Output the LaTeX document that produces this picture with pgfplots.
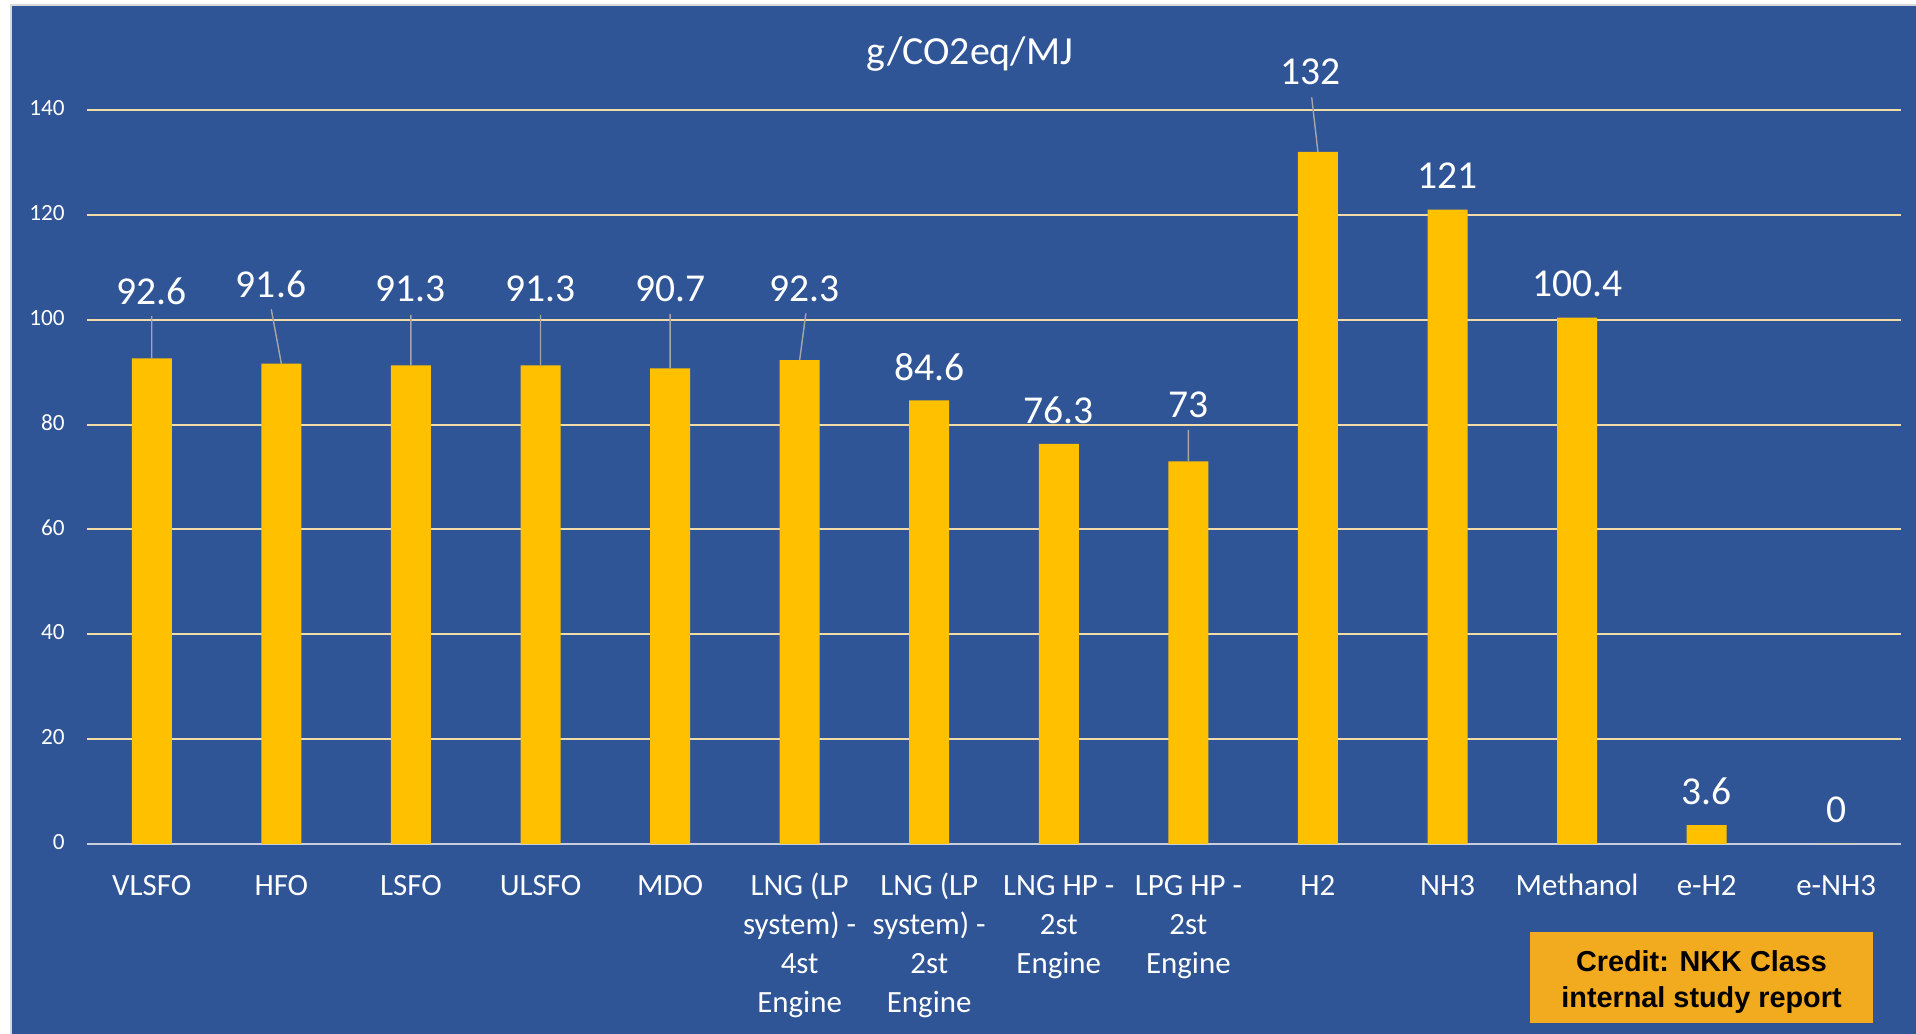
\documentclass[border=0pt]{standalone}
\usepackage{pgfplots}
\pgfplotsset{compat=1.18}
\usepackage{fontspec}
\setmainfont{Carlito}
\newfontfamily\creditfont{Liberation Sans}
\definecolor{bg}{HTML}{2F5597}
\definecolor{barc}{HTML}{FFC000}
\definecolor{gridc}{HTML}{F1DCA7}
\definecolor{zeroc}{HTML}{C8CEDA}
\definecolor{leadc}{HTML}{A6A6A6}
\definecolor{creditc}{HTML}{F2AB1F}
\begin{document}
\begin{tikzpicture}
\useasboundingbox (0,0) rectangle (191.6mm,103.4mm);
\fill[white] (0,0) rectangle (191.6mm,103.4mm);
\filldraw[fill=bg, draw=black!15, line width=0.4pt] (1.1mm,-1mm) rectangle (193mm,102.9mm);
\begin{axis}[
  at={(8.7mm,19.0mm)}, anchor=south west,
  scale only axis, width=181.4mm, height=73.4mm,
  xmin=-0.5, xmax=13.5, ymin=0, ymax=140,
  clip=false,
  axis line style={draw=none},
  tick style={draw=none}, major tick length=0pt,
  ytick={0,20,...,140},
  xtick={0,...,13},
  xticklabels={VLSFO,HFO,LSFO,ULSFO,MDO,{LNG (LP\\system) -\\4st\\Engine},{LNG (LP\\system) -\\2st\\Engine},{LNG HP -\\2st\\Engine},{LPG HP -\\2st\\Engine},H2,NH3,Methanol,e-H2,e-NH3},
  ymajorgrids,
  grid style={draw=gridc, line width=0.6pt},
  extra y ticks={0}, extra y tick labels={},
  extra y tick style={major grid style={draw=zeroc, line width=0.7pt}},
  /pgf/number format/assume math mode=true,
  yticklabel style={font=\fontsize{6.6}{8}\selectfont, text=white, xshift=-1.0mm},
  xticklabel style={font=\fontsize{8.8}{11.1}\selectfont, text=white, align=center, yshift=-1.15mm},
  typeset ticklabels with strut,
]
\addplot[ybar, bar width=4mm, fill=barc, draw=none]
  coordinates {(0,92.6) (1,91.6) (2,91.3) (3,91.3) (4,90.7) (5,92.3) (6,84.6) (7,76.3) (8,73) (9,132) (10,121) (11,100.4) (12,3.6) (13,0)};
\addplot[draw=leadc, line width=0.4pt, mark=none, unbounded coords=jump]
  coordinates {(0,100.7) (0,92.6) (nan,nan) (0.922,102.0) (1,91.6) (nan,nan) (2,100.9) (2,91.3) (nan,nan) (3,100.9) (3,91.3) (nan,nan) (4,101.1) (4,90.7) (nan,nan) (5.048,101.2) (5,92.3) (nan,nan) (8,79.0) (8,73) (nan,nan) (8.952,142.4) (9,132)};
\addplot[only marks, mark=none, point meta=explicit symbolic, nodes near coords,
  every node near coord/.append style={anchor=center, text=white, font=\fontsize{11.25}{13}\selectfont, inner sep=0pt}]
  table[meta=lab, row sep=\\] {
  x y lab\\
  0 105.5 92.6\\
  0.92 106.8 91.6\\
  2 105.8 91.3\\
  3 105.8 91.3\\
  4 105.8 90.7\\
  5.04 105.8 92.3\\
  6 90.9 84.6\\
  7 82.7 76.3\\
  8 83.8 73\\
  8.946 147.2 132\\
  10 127.4 121\\
  11 106.8 100.4\\
  12 10.0 3.6\\
  13 6.5 0\\
  };
\end{axis}
\node[anchor=base, text=white, font=\fontsize{11.35}{13}\selectfont] at (97.0mm,96.9mm) {g/CO2eq/MJ};
\node[fill=creditc, minimum width=34.3mm, minimum height=9.1mm, inner sep=0pt] at (170.15mm,5.65mm) {};
\node[inner sep=0pt, align=center, text=black,
  font=\creditfont\bfseries\fontsize{8.2}{10.4}\selectfont] at (170.15mm,5.2mm) {Credit: NKK Class\\internal study report};
\end{tikzpicture}
\end{document}
